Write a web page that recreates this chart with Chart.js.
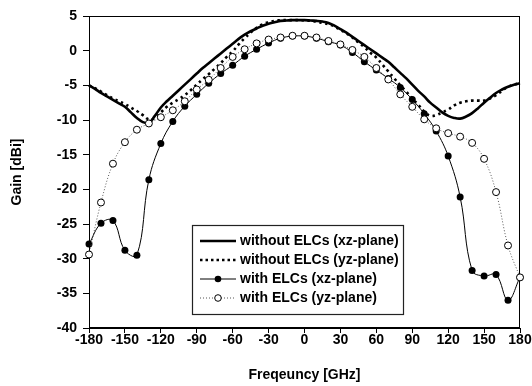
<!DOCTYPE html>
<html><head><meta charset="utf-8">
<script src="https://cdn.jsdelivr.net/npm/chart.js@4.4.1/dist/chart.umd.min.js"></script>
<style>html,body{margin:0;padding:0;background:#fff;}#wrap{width:532px;height:386px;}</style>
</head><body><div id="wrap"><canvas id="c" width="532" height="386"></canvas></div>
<script>
// angles for the smooth (no-marker) curves, 5 degree step
const anglesFine = [-180,-175,-170,-165,-160,-155,-150,-145,-140,-135,-130,-125,-120,-115,-110,-105,-100,-95,-90,-85,-80,-75,-70,-65,-60,-55,-50,-45,-40,-35,-30,-25,-20,-15,-10,-5,0,5,10,15,20,25,30,35,40,45,50,55,60,65,70,75,80,85,90,95,100,105,110,115,120,125,130,135,140,145,150,155,160,165,170,175,180];
// angles for the marker curves, 10 degree step
const angles = [-180,-170,-160,-150,-140,-130,-120,-110,-100,-90,-80,-70,-60,-50,-40,-30,-20,-10,0,10,20,30,40,50,60,70,80,90,100,110,120,130,140,150,160,170,180];

const labels = ['without ELCs (xz-plane)','without ELCs (yz-plane)','with ELCs (xz-plane)','with ELCs (yz-plane)'];

const withoutXZ = [-5.0,-5.5,-6.1,-6.6,-7.1,-7.6,-8.1,-8.9,-9.7,-10.3,-10.4,-9.4,-8.2,-7.3,-6.5,-5.7,-4.9,-4.1,-3.3,-2.5,-1.8,-1.1,-0.4,0.3,1.0,1.7,2.3,2.8,3.2,3.6,3.9,4.1,4.3,4.35,4.4,4.4,4.4,4.35,4.3,4.2,4.0,3.6,3.1,2.6,2.0,1.4,0.8,0.2,-0.4,-1.0,-1.6,-2.4,-3.2,-4.0,-4.9,-5.8,-6.6,-7.5,-8.2,-8.9,-9.4,-9.7,-9.8,-9.5,-9.0,-8.3,-7.5,-6.8,-6.1,-5.6,-5.2,-4.9,-4.7];
const withoutYZ = [-5.0,-5.4,-5.9,-6.4,-6.9,-7.3,-7.7,-8.2,-8.7,-9.3,-9.9,-9.7,-8.9,-8.1,-7.5,-7.0,-6.4,-5.7,-4.9,-4.1,-3.4,-2.6,-1.8,-0.9,-0.1,0.9,1.8,2.6,3.3,3.8,4.1,4.3,4.4,4.4,4.4,4.4,4.35,4.3,4.2,4.0,3.8,3.5,3.0,2.5,1.9,1.2,0.5,-0.3,-1.0,-2.0,-3.0,-4.0,-5.0,-5.9,-6.9,-7.8,-8.8,-9.4,-9.3,-8.9,-8.5,-7.9,-7.5,-7.3,-7.2,-7.2,-7.2,-6.9,-6.4,-5.8,-5.2,-4.9,-4.7];
const withXZ = [-27.9,-24.9,-24.5,-28.8,-29.5,-18.6,-13.4,-10.2,-8.0,-6.3,-4.7,-3.3,-2.1,-0.8,0.2,1.1,1.8,2.1,2.1,1.8,1.3,0.8,-0.25,-1.6,-2.8,-4.0,-5.3,-7.05,-9.1,-11.6,-15.2,-21.1,-31.7,-32.5,-32.3,-36.0,-32.7];
const withYZ = [-29.4,-21.9,-16.3,-13.2,-11.4,-10.5,-9.6,-8.6,-7.3,-5.6,-4.2,-2.5,-0.9,0.2,1.05,1.6,1.9,2.15,2.15,1.9,1.4,0.9,0.1,-0.9,-2.5,-4.15,-6.3,-8.1,-9.9,-11.2,-11.9,-12.4,-13.3,-15.6,-20.4,-28.1,-32.7];

const xTicks = [-180,-150,-120,-90,-60,-30,0,30,60,90,120,150,180];
const yTicks = [5,0,-5,-10,-15,-20,-25,-30,-35,-40];

const FONT = 'Liberation Sans, Arial, sans-serif';
const pts = (xs, ys) => xs.map((x, i) => ({x: x, y: ys[i]}));

const frameLegend = {
  id: 'frameLegend',
  beforeDatasetsDraw(chart) {
    const {ctx, chartArea: a} = chart;
    ctx.save();
    ctx.strokeStyle = '#000';
    ctx.lineWidth = 1;
    ctx.strokeRect(Math.round(a.left) + 0.5, Math.round(a.top) + 0.5, Math.round(a.right - a.left) - 1, Math.round(a.bottom - a.top) - 1);
    ctx.restore();
  },
  afterDraw(chart) {
    const ctx = chart.ctx;
    const bx = 192, by = 225, bw = 211, bh = 89;
    ctx.save();
    ctx.fillStyle = '#fff';
    ctx.fillRect(bx, by, bw, bh);
    ctx.strokeStyle = '#222';
    ctx.lineWidth = 1.2;
    ctx.strokeRect(bx + 0.5, by + 0.5, bw, bh);
    const rows = [241, 260, 279, 298];
    const x0 = 200, x1 = 236, xm = 218;
    rows.forEach((ry, i) => {
      ctx.save();
      ctx.strokeStyle = '#000';
      if (i === 0) { ctx.lineWidth = 2.6; ctx.setLineDash([]); }
      else if (i === 1) { ctx.lineWidth = 2.6; ctx.setLineDash([2.5, 3]); }
      else if (i === 2) { ctx.lineWidth = 1; ctx.setLineDash([]); }
      else { ctx.lineWidth = 1; ctx.strokeStyle = '#555'; ctx.setLineDash([1, 2]); }
      ctx.beginPath(); ctx.moveTo(x0, ry); ctx.lineTo(x1, ry); ctx.stroke();
      ctx.setLineDash([]);
      if (i === 2) {
        ctx.fillStyle = '#000';
        ctx.beginPath(); ctx.arc(xm, ry, 3.3, 0, Math.PI * 2); ctx.fill();
      } else if (i === 3) {
        ctx.fillStyle = '#fff'; ctx.strokeStyle = '#000'; ctx.lineWidth = 1;
        ctx.beginPath(); ctx.arc(xm, ry, 3.3, 0, Math.PI * 2); ctx.fill(); ctx.stroke();
      }
      ctx.restore();
      ctx.fillStyle = '#000';
      ctx.font = 'bold 14px ' + FONT;
      ctx.textBaseline = 'middle';
      ctx.textAlign = 'left';
      ctx.fillText(labels[i], 240, ry + 0.5);
    });
    ctx.restore();
  }
};

const tickFont = {family: FONT, weight: 'bold', size: 14};

new Chart(document.getElementById('c'), {
  type: 'line',
  data: {
    datasets: [
      {label: labels[0], data: pts(anglesFine, withoutXZ), borderColor: '#000', borderWidth: 2.6, pointRadius: 0, tension: 0.4, fill: false, order: 4, clip: false},
      {label: labels[1], data: pts(anglesFine, withoutYZ), borderColor: '#000', borderWidth: 2.6, borderDash: [2.5, 3.5], pointRadius: 0, tension: 0.4, fill: false, order: 3, clip: false},
      {label: labels[2], data: pts(angles, withXZ), borderColor: '#000', borderWidth: 1, pointRadius: 3.5, pointBackgroundColor: '#000', pointBorderColor: '#000', pointBorderWidth: 0, tension: 0.4, fill: false, order: 2, clip: false},
      {label: labels[3], data: pts(angles, withYZ), borderColor: '#555', borderWidth: 1, borderDash: [1, 2], pointRadius: 3.5, pointBackgroundColor: '#fff', pointBorderColor: '#000', pointBorderWidth: 1, tension: 0.4, fill: false, order: 1, clip: false}
    ]
  },
  options: {
    responsive: false,
    animation: false,
    devicePixelRatio: 1,
    layout: {padding: {top: 16, right: 12, left: 0, bottom: 0}},
    plugins: {legend: {display: false}, tooltip: {enabled: false}},
    scales: {
      x: {
        type: 'linear', min: -180, max: 180,
        afterBuildTicks: s => { s.ticks = xTicks.map(v => ({value: v})); },
        afterFit: s => { s.height = 58; },
        ticks: {font: tickFont, color: '#000', padding: -1.5, maxRotation: 0, autoSkip: false},
        grid: {display: true, drawOnChartArea: false, drawTicks: true, tickLength: 5, color: '#000', lineWidth: 1},
        border: {display: true, color: '#000', width: 1},
        title: {display: true, text: 'Freqeuncy [GHz]', color: '#000', font: {family: FONT, weight: 'bold', size: 14}, padding: {top: 0, bottom: 2}}
      },
      y: {
        type: 'linear', min: -40, max: 5,
        afterBuildTicks: s => { s.ticks = yTicks.map(v => ({value: v})); },
        afterFit: s => { s.width = 89; },
        ticks: {font: tickFont, color: '#000', padding: 6, autoSkip: false},
        grid: {display: true, drawOnChartArea: false, drawTicks: true, tickLength: 6, color: '#000', lineWidth: 1},
        border: {display: true, color: '#000', width: 1},
        title: {display: true, text: 'Gain [dBi]', color: '#000', font: {family: FONT, weight: 'bold', size: 14}, padding: {top: 8.6, bottom: 0}}
      }
    }
  },
  plugins: [frameLegend]
});
</script>
</body></html>
